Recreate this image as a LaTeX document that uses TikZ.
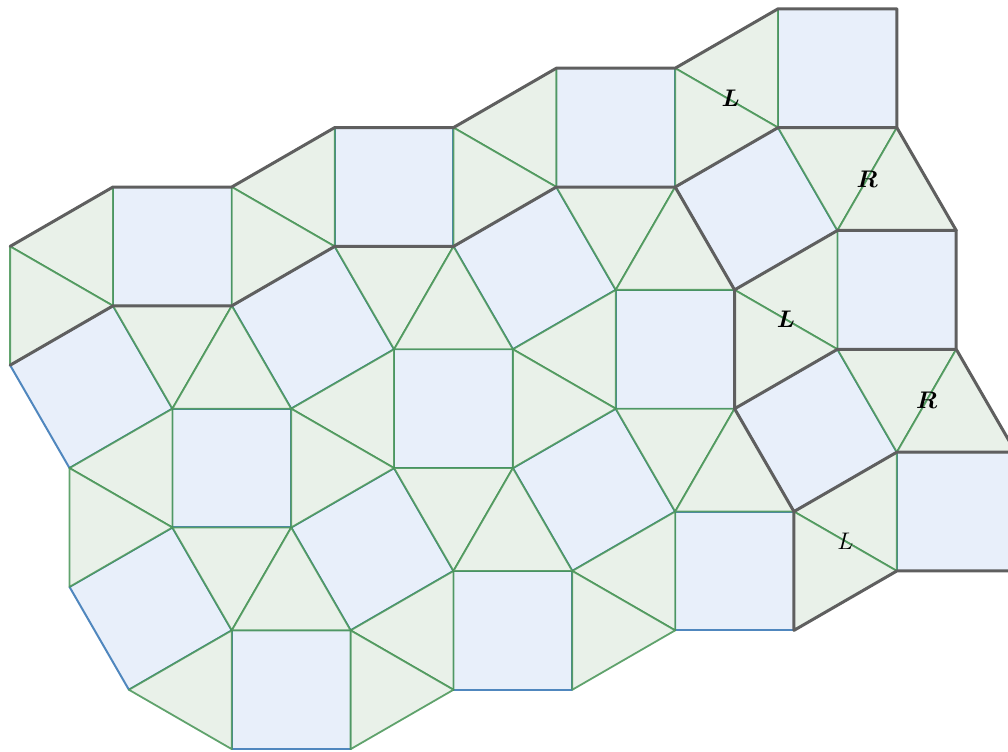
\documentclass[tikz,border=0pt]{standalone}
\usepackage{amsmath}
\usepackage{bm}
\usetikzlibrary{calc}
\definecolor{sqfill}{RGB}{232,239,250}
\definecolor{trfill}{RGB}{233,241,233}
\definecolor{sqline}{RGB}{80,135,190}
\definecolor{trline}{RGB}{70,148,85}
\definecolor{edgegray}{RGB}{95,95,95}
\tikzset{
  cell/.style 2 args={shift={({113+221.68*(#1)+59.4*(#2)},{187-59.4*(#1)+221.68*(#2)})}},
  sq/.style={fill=sqfill,draw=sqline,line width=1pt,line join=round},
  tri/.style={fill=trfill,draw=trline,draw opacity=0.85,line width=0.9pt,line join=round},
  grayedge/.style={draw=edgegray,line width=1.5pt,line join=round,line cap=round},
  lab/.style={font=\fontsize{13}{15}\selectfont,inner sep=0pt}
}
\newcommand{\tileS}[2]{\path[sq,cell={#1}{#2}] (0,0) -- (118.8,0) -- (118.8,118.8) -- (0,118.8) -- cycle;}
\newcommand{\tileR}[2]{\path[sq,cell={#1}{#2}] (118.8,118.8) -- (221.68,59.4) -- (281.08,162.28) -- (178.2,221.68) -- cycle;}
\newcommand{\tileA}[2]{\path[tri,cell={#1}{#2}] (118.8,0) -- (221.68,-59.4) -- (221.68,59.4) -- cycle;}
\newcommand{\tileB}[2]{\path[tri,cell={#1}{#2}] (118.8,0) -- (221.68,59.4) -- (118.8,118.8) -- cycle;}
\newcommand{\tileC}[2]{\path[tri,cell={#1}{#2}] (0,118.8) -- (118.8,118.8) -- (59.4,221.68) -- cycle;}
\newcommand{\tileD}[2]{\path[tri,cell={#1}{#2}] (118.8,118.8) -- (178.2,221.68) -- (59.4,221.68) -- cycle;}
\begin{document}
\begin{tikzpicture}[x=0.5pt,y=-0.5pt]
\useasboundingbox (0,0) rectangle (1008,751);
\clip (0,0) rectangle (1008,751);
% squares
\foreach \i/\j in {0/0,1/0,2/0,3/0,0/1,1/1,2/1,3/1,0/2,1/2,2/2,3/2} {\tileS{\i}{\j}}
\foreach \i/\j in {-1/0,0/0,1/0,2/0,-1/1,0/1,1/1,2/1} {\tileR{\i}{\j}}
% triangles
\foreach \i/\j in {-1/0,0/0,1/0,2/0,-1/1,0/1,1/1,2/1,-1/2,0/2,1/2,2/2} {\tileA{\i}{\j}}
\foreach \i/\j in {-1/0,0/0,1/0,2/0,-1/1,0/1,1/1,2/1,0/2,1/2,2/2} {\tileB{\i}{\j}}
\foreach \i/\j in {0/0,1/0,2/0,3/0,0/1,1/1,2/1,3/1} {\tileC{\i}{\j}}
\foreach \i/\j in {0/0,1/0,2/0,3/0,0/1,1/1,2/1,3/1} {\tileD{\i}{\j}}
% vertices of the highlighted edges
\coordinate (a0) at (10.12,246.4);
\coordinate (a1) at (113,187);
\coordinate (a2) at (231.8,187);
\coordinate (a3) at (334.68,127.6);
\coordinate (a4) at (453.48,127.6);
\coordinate (a5) at (556.36,68.2);
\coordinate (a6) at (675.16,68.2);
\coordinate (a7) at (778.04,8.8);
\coordinate (a8) at (896.84,8.8);
\coordinate (b0) at (10.12,365.2);
\coordinate (b1) at (113,305.8);
\coordinate (b2) at (231.8,305.8);
\coordinate (b3) at (334.68,246.4);
\coordinate (b4) at (453.48,246.4);
\coordinate (b5) at (556.36,187);
\coordinate (b6) at (675.16,187);
\coordinate (b7) at (778.04,127.6);
\coordinate (b8) at (896.84,127.6);
\coordinate (c1) at (734.56,289.88);
\coordinate (c2) at (837.44,230.48);
\coordinate (c3) at (956.24,230.48);
\coordinate (d1) at (734.56,408.68);
\coordinate (d2) at (837.44,349.28);
\coordinate (d3) at (956.24,349.28);
\coordinate (e1) at (793.96,511.56);
\coordinate (e2) at (896.84,452.16);
\coordinate (e3) at (1015.64,452.16);
\coordinate (f1) at (793.96,630.36);
\coordinate (f2) at (896.84,570.96);
\coordinate (f3) at (1015.64,570.96);
% gray edges
\draw[grayedge] (a0) -- (a1) -- (a2) -- (a3) -- (a4) -- (a5) -- (a6) -- (a7) -- (a8) -- (b8) -- (c3) -- (d3) -- (e3);
\draw[grayedge] (b0) -- (b1) -- (b2) -- (b3) -- (b4) -- (b5) -- (b6) -- (b7) -- (b8);
\draw[grayedge] (b6) -- (c1) -- (c2) -- (c3);
\draw[grayedge] (c1) -- (d1) -- (d2) -- (d3);
\draw[grayedge] (d1) -- (e1) -- (e2) -- (e3);
\draw[grayedge] (e1) -- (f1) -- (f2) -- (f3);
% labels
\node[lab,xshift=2pt] (l1) at ($(a6)!0.5!(b7)$) {$\bm{L}$};
\node[lab] (r1) at ($(b8)!0.5!(c2)$) {$\bm{R}$};
\node[lab] (l2) at ($(c1)!0.5!(d2)$) {$\bm{L}$};
\node[lab] (r2) at ($(d3)!0.5!(e2)$) {$\bm{R}$};
\node[lab] (l3) at ($(e1)!0.5!(f2)$) {$L$};
\end{tikzpicture}
\end{document}
